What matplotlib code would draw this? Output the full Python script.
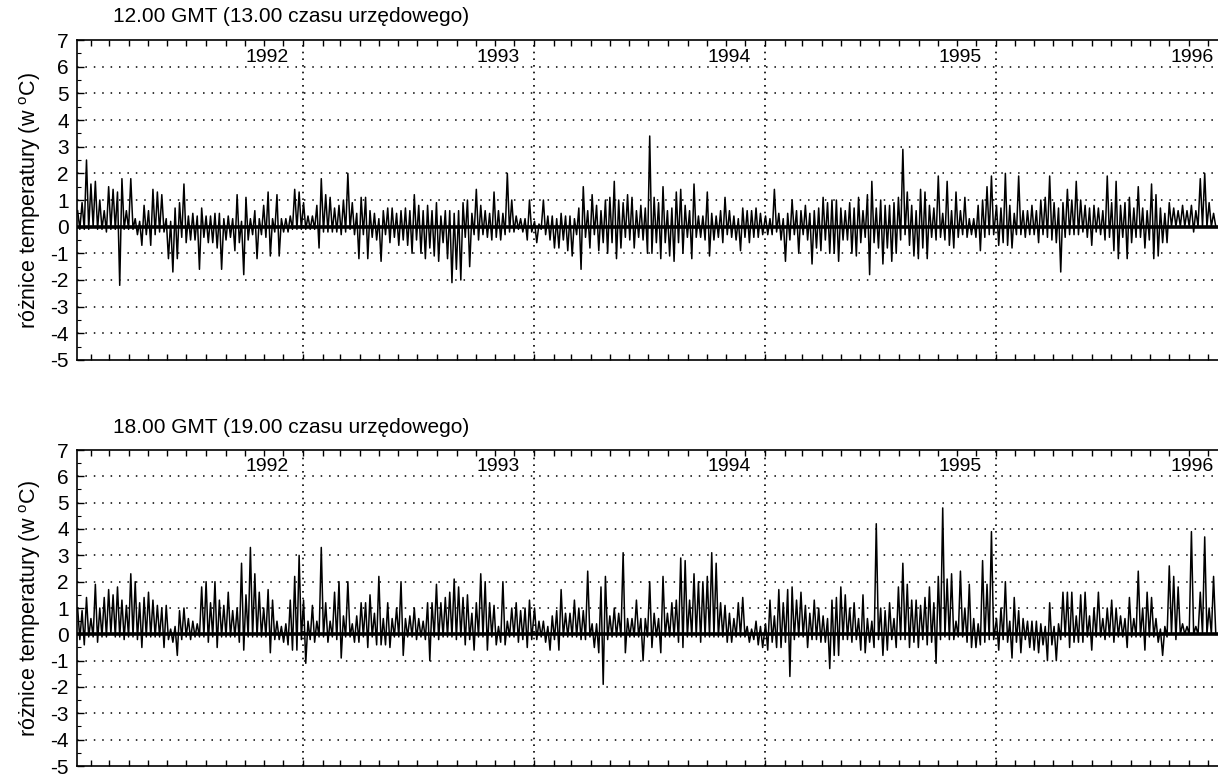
import matplotlib
matplotlib.use('agg')
import pandas as pd
import matplotlib.pyplot as plt
import matplotlib.dates as mdates
from matplotlib.ticker import MultipleLocator

plt.rcParams['font.family'] = ['Liberation Sans', 'DejaVu Sans']
plt.rcParams['axes.unicode_minus'] = False
plt.rcParams['mathtext.fontset'] = 'custom'
plt.rcParams['mathtext.rm'] = 'Liberation Sans'

# weekly extremes of the temperature difference (deg C)
years = [1992, 1993, 1994, 1995, 1996]
week_start = ['1992-01-10', '1993-01-01', '1994-01-01', '1995-01-01', '1996-01-01']

# 12.00 GMT
hi12_1992 = [0.6, 0.9, 2.5, 1.6, 1.7, 1.0, 0.6, 1.5, 1.4, 1.3, 1.8, 0.6, 1.8, 0.3, 0.2, 0.8, 0.6, 1.4, 1.3, 1.2,
             0.3, 0.2, 0.7, 0.9, 1.6, 0.4, 0.5, 0.4, 0.7, 0.4, 0.4, 0.5, 0.5, 0.3, 0.4, 0.3, 1.2, 0.2, 1.1, 0.3,
             0.6, 0.3, 0.8, 1.3, 0.3, 1.2, 0.3, 0.3, 0.4, 1.4, 1.3]
lo12_1992 = [-0.1, -0.1, -0.1, 0.0, -0.1, -0.1, -0.2, -0.1, -0.1, -2.2, -0.1, -0.1, -0.1, -0.3, -0.7, -0.3, -0.7,
             -0.3, -0.2, -0.2, -1.2, -1.7, -1.2, -0.4, -0.6, -0.5, -0.5, -1.6, -0.4, -0.6, -0.6, -0.8, -1.6, -0.5,
             -0.4, -0.9, -0.6, -1.8, -0.5, -0.3, -1.2, -0.3, -0.4, -1.1, -0.2, -1.1, -0.2, -0.2, -0.1, -0.1, -0.1]
hi12_1993 = [0.9, 0.4, 0.4, 0.8, 1.8, 1.2, 1.1, 0.7, 0.8, 1.0, 2.0, 0.9, 0.5, 1.1, 1.1, 0.6, 0.5, 0.3, 0.6, 0.7,
             0.7, 0.5, 0.6, 0.7, 0.6, 1.2, 0.8, 0.6, 0.8, 0.6, 0.9, 0.4, 0.6, 0.6, 0.5, 0.6, 0.9, 1.0, 0.5, 1.4,
             0.8, 0.6, 0.5, 1.3, 0.6, 0.5, 2.0, 1.0, 0.4, 0.3, 0.3, 1.0]
lo12_1993 = [-0.1, -0.1, -0.1, -0.8, -0.2, -0.2, -0.2, -0.2, -0.3, -0.2, -0.1, -0.3, -1.2, -0.3, -1.2, -0.4, -0.5,
             -1.3, -0.3, -0.6, -0.4, -0.7, -0.5, -0.7, -1.0, -0.5, -1.0, -1.2, -0.8, -1.1, -1.3, -0.6, -1.2, -2.1,
             -1.6, -2.0, -0.4, -1.5, -0.3, -0.5, -0.3, -0.4, -0.5, -0.4, -0.5, -0.3, -0.2, -0.2, -0.1, -0.2, -0.5,
             -0.2]
hi12_1994 = [0.2, 0.1, 1.0, 0.4, 0.4, 0.3, 0.5, 0.4, 0.4, 0.3, 0.7, 1.5, 0.6, 1.2, 0.8, 0.6, 1.0, 1.1, 1.7, 1.0,
             0.9, 1.2, 1.1, 0.6, 0.8, 0.7, 3.4, 1.1, 0.9, 1.5, 0.6, 0.7, 1.3, 1.4, 0.8, 0.6, 1.6, 0.4, 0.4, 1.3,
             0.5, 0.4, 0.6, 1.1, 0.6, 0.4, 0.3, 0.7, 0.6, 0.6, 0.7, 0.5]
lo12_1994 = [-0.6, -0.1, -0.3, -0.5, -0.8, -0.8, -0.5, -0.9, -1.1, -0.3, -1.6, -0.4, -0.8, -0.3, -0.9, -0.6, -1.0,
             -0.6, -1.2, -0.8, -0.4, -0.5, -0.8, -0.4, -0.5, -1.0, -1.0, -0.6, -1.2, -0.6, -1.1, -1.3, -0.6, -1.0,
             -0.4, -1.2, -0.4, -0.4, -0.5, -1.1, -0.5, -0.4, -0.6, -0.3, -0.4, -0.5, -0.9, -0.4, -0.6, -0.4, -0.4,
             -0.3]
hi12_1995 = [0.4, 0.3, 1.4, 0.5, 0.3, 0.5, 1.0, 0.6, 0.6, 0.8, 0.5, 0.6, 0.7, 1.1, 0.9, 1.0, 1.0, 0.7, 0.6, 0.9,
             0.7, 1.1, 0.6, 1.2, 1.7, 0.7, 1.0, 0.8, 0.8, 0.9, 1.1, 2.9, 1.3, 0.8, 0.6, 1.4, 1.3, 0.8, 0.7, 1.9,
             0.5, 1.7, 0.6, 1.3, 0.6, 1.1, 0.3, 0.3, 0.8, 1.0, 1.5, 1.9]
lo12_1995 = [-0.3, -0.3, -0.2, -0.5, -1.3, -0.5, -0.3, -1.0, -0.3, -0.5, -1.4, -0.8, -0.9, -0.5, -1.0, -1.0, -1.3,
             -0.5, -0.5, -1.0, -1.1, -0.6, -0.4, -1.8, -0.6, -0.8, -1.4, -0.8, -1.3, -1.0, -0.5, -0.3, -0.7, -1.1,
             -1.2, -0.8, -1.2, -0.4, -0.5, -0.4, -0.5, -0.7, -0.8, -0.4, -0.3, -0.4, -0.3, -0.4, -0.9, -0.4, -0.3,
             -0.3]
hi12_1996 = [0.8, 0.7, 2.0, 0.8, 0.5, 1.9, 0.6, 0.6, 0.8, 0.6, 1.0, 1.1, 1.9, 0.9, 0.7, 0.9, 1.4, 1.0, 1.7, 1.0,
             0.8, 0.7, 0.8, 0.7, 0.6, 1.9, 0.9, 1.7, 0.8, 0.9, 1.1, 0.7, 1.5, 0.7, 0.6, 1.6, 1.2, 0.7, 0.5, 0.9,
             0.7, 0.6, 0.8, 0.6, 0.8, 0.6, 1.8, 2.0, 0.9, 0.5]
lo12_1996 = [-0.7, -0.6, -0.7, -0.8, -0.3, -0.3, -0.4, -0.3, -0.3, -0.6, -0.3, -0.4, -0.5, -0.6, -1.7, -0.4, -0.3,
             -0.3, -0.3, -0.2, -0.4, -0.7, -0.2, -0.3, -0.5, -0.4, -0.9, -1.2, -0.4, -1.2, -0.6, -0.4, -0.4, -0.8,
             -0.5, -1.2, -1.1, -0.6, -0.6, 0.0, 0.0, 0.0, 0.0, 0.0, -0.2, 0.0, 0.0, 0.0, 0.0, 0.0]

# 18.00 GMT
hi18_1992 = [1.0, 0.9, 1.4, 0.6, 1.9, 1.0, 1.4, 1.7, 1.5, 1.8, 1.3, 1.1, 2.3, 2.0, 1.2, 1.4, 1.6, 1.3, 1.1, 1.0,
             1.1, 0.2, 0.3, 0.9, 1.0, 0.6, 0.5, 0.4, 1.8, 2.0, 1.2, 2.0, 1.3, 1.1, 1.6, 0.9, 1.0, 2.7, 1.5, 3.3,
             2.3, 1.6, 1.0, 1.7, 1.3, 0.5, 0.3, 0.4, 1.3, 2.2, 3.0]
lo18_1992 = [-0.2, -0.4, -0.1, -0.1, -0.3, -0.1, -0.1, 0.0, -0.1, -0.1, -0.2, -0.1, -0.1, -0.2, -0.5, -0.1, -0.1,
             -0.1, -0.1, -0.5, -0.2, -0.3, -0.8, -0.2, -0.1, -0.2, -0.1, -0.1, -0.1, -0.3, -0.1, -0.5, -0.1, -0.1,
             -0.1, -0.1, -0.3, -0.6, -0.1, -0.1, -0.1, -0.1, -0.1, -0.7, -0.2, -0.2, -0.3, -0.4, -0.6, -0.6, -0.2]
hi18_1993 = [1.3, 0.5, 1.1, 0.5, 3.3, 1.2, 0.5, 1.6, 2.0, 0.7, 2.0, 0.4, 0.7, 1.2, 1.2, 1.5, 0.8, 2.2, 0.6, 1.2,
             0.6, 1.0, 2.0, 0.6, 0.7, 1.0, 0.6, 0.5, 1.2, 1.2, 1.9, 1.2, 1.4, 1.6, 2.1, 1.8, 1.4, 1.5, 0.8, 1.2,
             2.3, 2.0, 1.2, 1.1, 0.3, 2.0, 0.5, 1.0, 1.2, 0.9, 1.0, 1.3]
lo18_1993 = [-1.1, -0.2, -0.3, -0.1, -0.1, -0.3, -0.1, -0.2, -0.9, -0.1, -0.1, -0.3, -0.3, -0.1, -0.5, -0.1, -0.4,
             -0.4, -0.4, -0.5, -0.1, -0.1, -0.8, -0.1, -0.1, -0.2, -0.1, -0.2, -1.0, -0.1, -0.2, -0.1, -0.1, -0.1,
             -0.2, -0.1, -0.4, -0.2, -0.6, -0.1, -0.1, -0.6, -0.1, -0.4, -0.3, -0.4, -0.1, -0.1, -0.3, -0.2, -0.5,
             -0.2]
hi18_1994 = [1.0, 0.5, 0.5, 0.3, 0.7, 0.9, 1.7, 0.8, 0.8, 1.3, 1.0, 0.9, 2.4, 0.4, 0.4, 1.8, 2.2, 0.7, 1.0, 0.8,
             3.1, 0.6, 0.6, 1.3, 0.6, 0.6, 2.0, 0.8, 0.6, 2.2, 0.8, 1.2, 1.3, 2.9, 2.8, 1.3, 2.3, 2.0, 2.0, 2.2,
             3.1, 2.7, 1.2, 1.1, 0.8, 0.6, 1.2, 1.4, 0.3, 0.2, 0.5, 0.3]
lo18_1994 = [-0.2, -0.1, -0.3, -0.6, -0.2, -0.6, -0.1, -0.1, -0.1, -0.1, -0.2, -0.2, -0.1, -0.5, -0.7, -1.9, -0.2,
             -0.1, -0.1, -0.1, -0.7, -0.1, -0.1, -0.1, -1.0, -0.1, -0.5, -0.1, -0.7, -0.1, -0.1, -0.1, -0.3, -0.5,
             -0.1, -0.1, -0.1, -0.3, -0.1, -0.1, -0.1, -0.1, -0.1, -0.3, -0.3, -0.1, -0.1, -0.1, -0.3, -0.2, -0.4,
             -0.5]
hi18_1995 = [0.4, 1.3, 0.7, 1.7, 1.2, 1.7, 1.8, 1.3, 1.6, 1.1, 0.8, 1.3, 1.0, 0.7, 0.6, 1.3, 1.4, 1.8, 1.5, 1.0,
             1.2, 0.6, 1.5, 0.6, 0.5, 4.2, 1.0, 0.9, 1.2, 0.6, 1.8, 2.7, 1.9, 1.3, 1.3, 1.1, 1.4, 1.8, 1.2, 2.2,
             4.8, 2.1, 2.3, 0.5, 2.4, 1.0, 1.9, 0.6, 0.4, 2.8, 1.9, 3.9]
lo18_1995 = [-0.6, -0.3, -0.5, -0.5, -0.3, -1.6, -0.2, -0.1, -0.1, -0.5, -0.2, -0.2, -0.3, -0.3, -1.3, -0.8, -0.8,
             -0.2, -0.2, -0.3, -0.2, -0.6, -0.7, -0.3, -0.5, -0.2, -0.8, -0.6, -0.2, -0.5, -0.2, -0.2, -0.5, -0.3,
             -0.5, -0.2, -0.4, -0.3, -1.1, -0.2, -0.1, -0.2, -0.2, -0.1, -0.1, -0.3, -0.5, -0.5, -0.4, -0.3, -0.2,
             -0.2]
hi18_1996 = [0.6, 1.0, 2.0, 0.5, 1.4, 0.9, 0.6, 0.5, 0.5, 0.5, 0.4, 0.3, 1.2, 0.3, 0.4, 1.6, 1.6, 1.6, 0.7, 1.5,
             1.6, 0.7, 1.0, 1.6, 0.6, 1.0, 1.3, 1.0, 0.7, 0.6, 1.4, 0.6, 2.4, 1.0, 1.6, 1.4, 0.6, 0.2, 0.3, 2.6,
             2.2, 1.8, 0.4, 0.3, 3.9, 0.3, 1.6, 3.7, 1.0, 2.2]
lo18_1996 = [-0.6, -0.2, -0.3, -0.9, -0.3, -0.7, -0.2, -0.5, -0.6, -0.7, -0.4, -1.0, -0.4, -1.0, -0.2, -0.1, -0.5,
             -0.3, -0.3, -0.3, -0.1, -0.6, -0.1, -0.1, -0.2, -0.1, -0.3, -0.1, -0.1, -0.5, -0.1, -0.1, -0.1, -0.6,
             -0.1, -0.1, -0.3, -0.8, -0.1, 0.0, -0.2, 0.0, 0.0, 0.0, 0.0, 0.0, 0.0, 0.0, 0.0, 0.0]

panels = [
    ('12.00 GMT (13.00 czasu urzędowego)',
     [hi12_1992, hi12_1993, hi12_1994, hi12_1995, hi12_1996],
     [lo12_1992, lo12_1993, lo12_1994, lo12_1995, lo12_1996]),
    ('18.00 GMT (19.00 czasu urzędowego)',
     [hi18_1992, hi18_1993, hi18_1994, hi18_1995, hi18_1996],
     [lo18_1992, lo18_1993, lo18_1994, lo18_1995, lo18_1996]),
]


def zigzag(his, los):
    # weekly max then weekly min, joined as one line like the daily trace
    xs, ys = [], []
    for hi, lo, start in zip(his, los, week_start):
        weeks = pd.date_range(start, periods=len(hi), freq='7D')
        for d, h, l in zip(weeks, hi, lo):
            xs += [mdates.date2num(d + pd.Timedelta(days=1)), mdates.date2num(d + pd.Timedelta(days=4.5))]
            ys += [h, l]
    return xs, ys


W, H = 1218, 777
fig = plt.figure(figsize=(W / 100, H / 100), dpi=100)

x0 = mdates.date2num(pd.Timestamp('1992-01-10'))
x1 = mdates.date2num(pd.Timestamp('1996-12-17'))
dots_h = (0, (1, 4.5))
dots_v = (0, (1, 3))

# (top, height) of each panel in pixels
boxes = [(40, 320), (450, 316)]

for i, (title, his, los) in enumerate(panels):
    top, hgt = boxes[i]
    ax = fig.add_axes([77 / W, 1 - (top + hgt) / H, 1 - 77 / W, hgt / H])
    ax.set_xlim(x0, x1)
    ax.set_ylim(-5, 7)

    for yv in range(-4, 7):
        ax.axhline(yv, color='k', lw=1.1, ls=dots_h, zorder=1)
    for y in years[1:]:
        ax.axvline(mdates.date2num(pd.Timestamp(f'{y}-01-01')), color='k', lw=1.2, ls=dots_v, zorder=1)

    xs, ys = zigzag(his, los)
    ax.plot(xs, ys, color='k', lw=1.1, zorder=3)
    ax.axhline(0, color='k', lw=2.6, zorder=4)

    for y in years:
        ax.annotate(str(y), xy=(mdates.date2num(pd.Timestamp(f'{y + 1}-01-01')), 6.36),
                    xytext=(-10, 0), textcoords='offset points', ha='right', va='center',
                    fontsize=14, annotation_clip=False)

    ax.set_yticks(range(-5, 8))
    ax.yaxis.set_minor_locator(MultipleLocator(0.5))
    ax.xaxis.set_major_locator(mdates.MonthLocator())
    ax.tick_params(axis='y', which='major', direction='in', length=5, width=1, labelsize=15, pad=6)
    ax.tick_params(axis='y', which='minor', direction='in', length=3, width=0.8)
    ax.tick_params(axis='x', which='major', direction='in', length=4, width=1,
                   top=True, bottom=True, labelbottom=False)
    ax.spines['right'].set_visible(False)
    for s in ['left', 'top', 'bottom']:
        ax.spines[s].set_linewidth(1.2)

    fig.text(113 / W, 1 - (top - 23) / H, title, fontsize=15, ha='left', va='center')
    fig.text(30 / W, 1 - (top + hgt / 2) / H, 'różnice temperatury (w $^{\\rm o}$C)',
             rotation=90, fontsize=15.5, ha='center', va='center')

fig.savefig('out.png', dpi=100)
